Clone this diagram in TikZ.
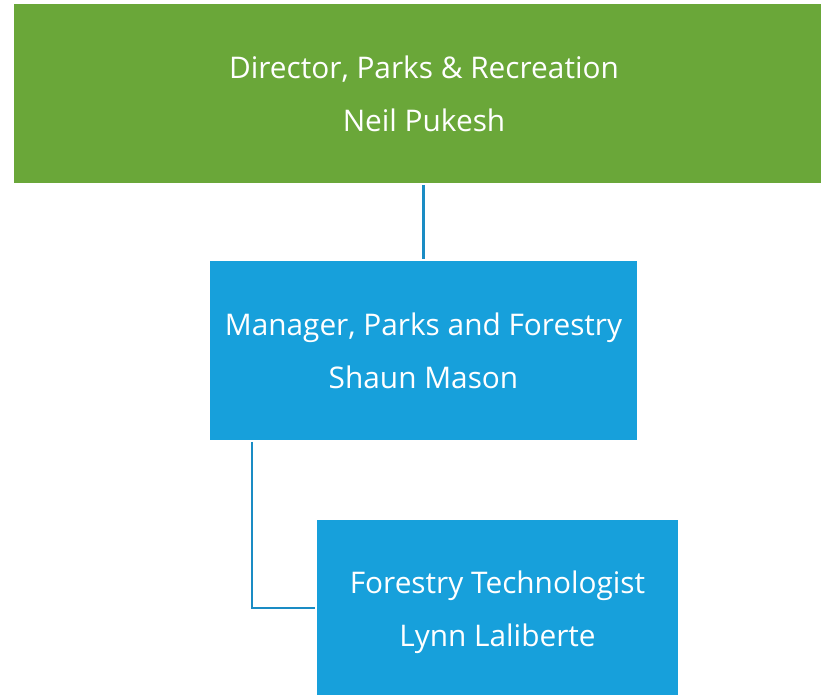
\documentclass[tikz,border=0pt]{standalone}
\usepackage{fontspec}
\setmainfont{Open Sans}
\definecolor{dirgreen}{HTML}{6AA739}
\definecolor{boxblue}{HTML}{17A0DB}
\definecolor{linkblue}{HTML}{1A8CC4}
\begin{document}
\begin{tikzpicture}[x=1pt,y=1pt,
  box/.style={rectangle, inner sep=0pt, outer sep=0pt, text=white, align=center,
    font=\fontsize{29.8}{53}\selectfont},
  conn/.style={draw=linkblue, line width=2.6pt, shorten <=2pt, shorten >=2pt}]
\useasboundingbox (0,0) rectangle (821,695);
\node[box, fill=dirgreen, minimum width=820pt, minimum height=179pt] (d) at (424,601.5)
  {Director, Parks \& Recreation\\Neil Pukesh};
\node[box, fill=boxblue, minimum width=427pt, minimum height=179pt] (m) at (423.5,344.5)
  {Manager, Parks and Forestry\\Shaun Mason};
\node[box, fill=boxblue, minimum width=361pt, minimum height=184pt] (t) at (497.5,83)
  {Forestry Technologist\\Lynn Laliberte};
\draw[conn] (m.north |- d.south) -- (m.north);
\draw[conn] ([xshift=42pt]m.south west) |- ([yshift=4pt]t.west);
\end{tikzpicture}
\end{document}
